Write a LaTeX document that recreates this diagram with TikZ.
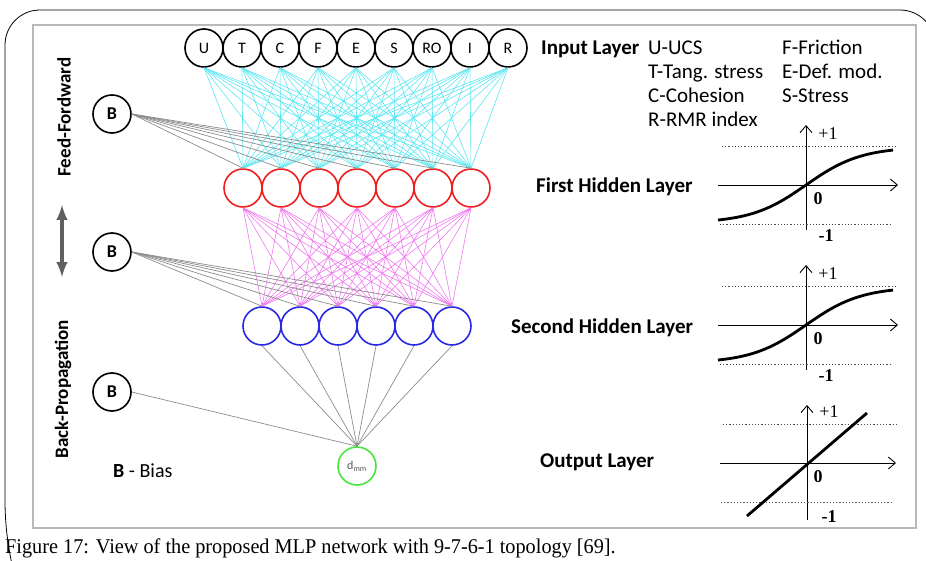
\documentclass[tikz,border=0pt]{standalone}
\usepackage{fontspec}
\setmainfont{Carlito}
\newfontfamily\capserif{Liberation Serif}
\usetikzlibrary{arrows.meta}
\definecolor{linkcyan}{RGB}{90,230,240}
\definecolor{linkpink}{RGB}{240,120,240}
\definecolor{linkgray}{RGB}{140,140,140}
\definecolor{unitred}{RGB}{240,30,30}
\definecolor{unitblue}{RGB}{40,40,230}
\definecolor{unitgreen}{RGB}{70,230,60}

\begin{document}
\begin{tikzpicture}[x=1pt,y=-1pt,
    unit/.style={circle,draw,line width=1.6pt,minimum size=38pt,inner sep=0pt,fill=white},
    label/.style={anchor=base west,inner sep=0pt,font=\fontsize{21}{24}\selectfont},
    layer/.style={label,font=\fontsize{21}{24}\selectfont\bfseries},
    side/.style={rotate=90,inner sep=0pt,font=\fontsize{19}{22}\selectfont\bfseries},
    axis/.style={line width=0.9pt,-{Straight Barb[length=7pt,width=12pt,line width=0.9pt]}},
    guide/.style={line width=0.9pt,dash pattern=on 1.2pt off 2pt,black!70},
    graphtxt/.style={inner sep=0pt,font=\capserif\fontsize{18}{20}\selectfont}]
    \useasboundingbox (0,0) rectangle (926,561);
    \draw[line width=0.8pt] (5,500) -- (5,45) arc[start angle=180,end angle=270,radius=35]
        -- (900,10) arc[start angle=270,end angle=360,radius=35] -- (935,561);
    \draw[line width=0.8pt] (5,500) arc[start angle=180,end angle=160,radius=300];
    \draw[gray!55,line width=1.6pt] (33,25) rectangle (916,528);

    \foreach \n [count=\i] in {U,T,C,F,E,S,RO,I,R}
        \node[unit,font=\fontsize{16}{18}\selectfont] (in\i) at ({166+38*\i},48) {\n};
    \foreach \i in {1,...,7}
        \node[unit,draw=unitred] (ha\i) at ({205+38*\i},188) {};
    \foreach \i in {1,...,6}
        \node[unit,draw=unitblue] (hb\i) at ({224+38*\i},326) {};
    \node[unit,draw=unitgreen,font=\fontsize{12}{14}\selectfont,text=gray!70!black] (out) at (357,466) {d\textsubscript{mm}};
    \foreach \y [count=\i] in {114,252,392}
        \node[unit,font=\fontsize{18}{20}\selectfont\bfseries] (b\i) at (112,\y) {B};

    \foreach \i in {1,...,9}
        \foreach \j in {1,...,7}
            \draw[linkcyan,line width=0.6pt] (in\i.south) -- (ha\j.north);
    \foreach \i in {1,...,7}
        \foreach \j in {1,...,6}
            \draw[linkpink,line width=0.6pt] (ha\i.south) -- (hb\j.north);
    \foreach \j in {1,...,7}
        \draw[linkgray,line width=0.7pt] (b1.east) -- (ha\j.north);
    \foreach \j in {1,...,6}
        \draw[linkgray,line width=0.7pt] (b2.east) -- (hb\j.north);
    \foreach \i in {1,...,6}
        \draw[linkgray,line width=0.7pt] (hb\i.south) -- (out.north);
    \draw[linkgray,line width=0.7pt] (b3.east) -- (out.north);

    \node[side] (ff) at (64,117) {Feed-Fordward};
    \node[side] (bp) at (63,389) {Back-Propagation};
    \draw[gray!75!black,line width=4pt,latex-latex] (62,205) -- (62,277);
    \node[label,font=\fontsize{20}{24}\selectfont] (bias) at (113,477) {\textbf{B} - Bias};

    \node[layer] (inl) at (541,55) {Input Layer};
    \node[label] (u) at (648,55) {U-UCS};
    \node[label] (t) at (648,79) {T-Tang. stress};
    \node[label] (c) at (648,103) {C-Cohesion};
    \node[label] (r) at (648,127) {R-RMR index};
    \node[label] (f) at (782,55) {F-Friction};
    \node[label] (e) at (782,79) {E-Def. mod.};
    \node[label] (s) at (782,103) {S-Stress};
    \node[layer] (l1) at (536,193) {First Hidden Layer};
    \node[layer] (l2) at (511,333) {Second Hidden Layer};
    \node[layer] (l3) at (540,467) {Output Layer};

    \foreach \gy in {185,325} {
        \begin{scope}[shift={(806,\gy)}]
            \draw[axis] (0,45) -- (0,-60);
            \draw[axis] (-88,0) -- (92,0);
            \draw[guide] (-84,-39) -- (89,-39);
            \draw[guide] (-86,39) -- (84,39);
            \draw[line width=2.8pt,domain=-88:87,smooth,samples=40] plot (\x,{-38*tanh(\x/55)});
            \node[graphtxt] at (22,-51) {+1};
            \node[graphtxt,font=\capserif\bfseries\fontsize{18}{20}\selectfont] at (12,14) {0};
            \node[graphtxt,font=\capserif\bfseries\fontsize{18}{20}\selectfont] at (20,51) {-1};
        \end{scope}
    }
    \begin{scope}[shift={(807,463)}]
        \draw[axis] (0,57) -- (0,-58);
        \draw[axis] (-87,0) -- (89,0);
        \draw[guide] (-84,-39) -- (89,-39);
        \draw[guide] (-86,39) -- (84,39);
        \draw[line width=2.8pt] (-60,53) -- (60,-50);
        \node[graphtxt] at (22,-51) {+1};
        \node[graphtxt,font=\capserif\bfseries\fontsize{18}{20}\selectfont] at (11,14) {0};
        \node[graphtxt,font=\capserif\bfseries\fontsize{18}{20}\selectfont] at (22,54) {-1};
    \end{scope}

    \node[anchor=base west,inner sep=0pt,xscale=0.965,font=\capserif\fontsize{21}{24}\selectfont] (cap) at (5,553)
        {Figure 17: View of the proposed MLP network with 9-7-6-1 topology [69].};
\end{tikzpicture}
\end{document}
